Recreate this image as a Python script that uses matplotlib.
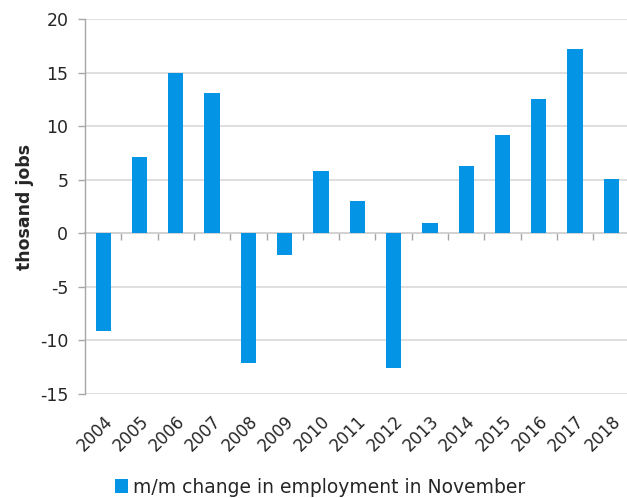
import matplotlib
matplotlib.use("Agg")
import matplotlib.pyplot as plt
import numpy as np

years = ["2004", "2005", "2006", "2007", "2008", "2009", "2010", "2011",
         "2012", "2013", "2014", "2015", "2016", "2017", "2018"]
change = [-9.1, 7.1, 15.0, 13.1, -12.1, -2.0, 5.8, 3.0,
          -12.6, 1.0, 6.3, 9.2, 12.5, 17.2, 5.1]

bar_color = "#0394E6"
grid_color = "#D9D9D9"
axis_color = "#A6A6A6"
text_color = "#262626"

plt.rcParams["font.family"] = ["DejaVu Sans"]
plt.rcParams["axes.unicode_minus"] = False

fig = plt.figure(figsize=(6.27, 4.98), dpi=100)
ax = fig.add_axes([0.1356, 0.2088, 0.8644, 0.7530])

x = np.arange(len(years))
ax.bar(x, change, width=0.42, color=bar_color, zorder=3,
       label="m/m change in employment in November")

ax.set_ylim(-15, 20)
ax.set_yticks(np.arange(-15, 21, 5))
ax.set_xlim(-0.5, len(years) - 0.57)

ax.grid(axis="y", color=grid_color, linewidth=1.2, zorder=0)
ax.set_axisbelow(True)

for side in ("top", "right", "bottom"):
    ax.spines[side].set_visible(False)
ax.spines["left"].set_color(axis_color)
ax.spines["left"].set_linewidth(1.0)

ax.tick_params(axis="y", direction="out", length=5, width=1.0,
               color=axis_color, pad=7, labelsize=12.5, labelcolor=text_color)

# Category labels along the bottom edge
ax.set_xticks(x)
ax.set_xticklabels(years, rotation=45, ha="right", va="top",
                   rotation_mode="anchor", fontsize=12, color=text_color)
ax.tick_params(axis="x", length=0, pad=13)

# Zero line with tick marks between categories
zero_pos = (0 - (-15)) / (20 - (-15))
zax = ax.secondary_xaxis(zero_pos)
zax.spines["bottom"].set_color(axis_color)
zax.spines["bottom"].set_linewidth(1.2)
zax.set_xticks(x[1:] - 0.5)
zax.set_xticklabels([])
zax.tick_params(axis="x", direction="out", length=5, width=1.0,
                color=axis_color)

ax.set_ylabel("thosand jobs", fontsize=12.5, fontweight="bold",
              color=text_color)
ax.yaxis.set_label_coords(-0.095, 0.5)

fig.legend(loc="center", bbox_to_anchor=(0.51, 0.022), frameon=False,
           fontsize=13.5, handlelength=0.7, handleheight=0.7,
           handletextpad=0.25, labelcolor=text_color,
           borderpad=0, borderaxespad=0)

fig.savefig("out.png", dpi=100)
